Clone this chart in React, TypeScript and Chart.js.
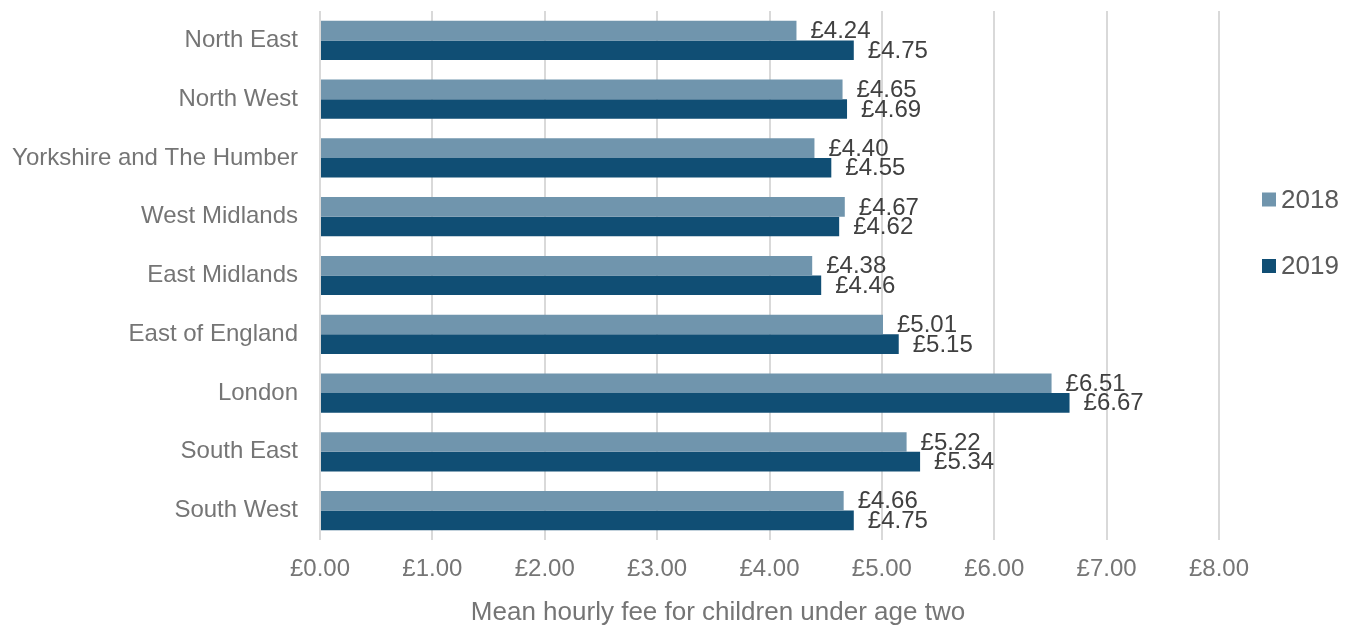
import React, { useEffect, useRef } from "react";
import { Chart, registerables } from "chart.js";

Chart.register(...registerables);

const regions = [
  "North East",
  "North West",
  "Yorkshire and The Humber",
  "West Midlands",
  "East Midlands",
  "East of England",
  "London",
  "South East",
  "South West",
];
const fees2018 = [4.24, 4.65, 4.4, 4.67, 4.38, 5.01, 6.51, 5.22, 4.66];
const fees2019 = [4.75, 4.69, 4.55, 4.62, 4.46, 5.15, 6.67, 5.34, 4.75];
const seriesNames = ["2018", "2019"];
const seriesColors = ["#7095AD", "#104E74"];
const axisTitle = "Mean hourly fee for children under age two";

const FONT = "'Liberation Sans', Arial, sans-serif";

const valueLabels = {
  id: "valueLabels",
  afterDatasetsDraw(chart: any) {
    const ctx = chart.ctx;
    ctx.save();
    ctx.font = `24px ${FONT}`;
    ctx.fillStyle = "#404040";
    ctx.textAlign = "left";
    ctx.textBaseline = "middle";
    chart.data.datasets.forEach((ds: any, i: number) => {
      const meta = chart.getDatasetMeta(i);
      meta.data.forEach((el: any, j: number) => {
        const v = ds.data[j];
        ctx.fillText("£" + v.toFixed(2), el.x + 14, el.y + 1);
      });
    });
    ctx.restore();
  },
};

const customLegendAndTitle = {
  id: "customLegendAndTitle",
  afterDraw(chart: any) {
    const ctx = chart.ctx;
    ctx.save();
    const x = chart.width - 94;
    const ys = [199.5, 266];
    ctx.font = `26px ${FONT}`;
    ctx.textAlign = "left";
    ctx.textBaseline = "middle";
    chart.data.datasets.forEach((ds: any, i: number) => {
      ctx.fillStyle = ds.backgroundColor;
      ctx.fillRect(x, ys[i] - 7, 14, 14);
      ctx.fillStyle = "#595959";
      ctx.fillText(ds.label, x + 19, ys[i] + 1);
    });
    ctx.textAlign = "center";
    ctx.fillStyle = "#757575";
    ctx.fillText(axisTitle, 718, chart.height - 20);
    ctx.restore();
  },
};

export default function App() {
  const ref = useRef<HTMLCanvasElement | null>(null);
  useEffect(() => {
    document.body.style.margin = "0";
    if (!ref.current) return;
    const chart = new Chart(ref.current, {
      type: "bar",
      data: {
        labels: regions,
        datasets: [
          { label: seriesNames[0], data: fees2018, backgroundColor: seriesColors[0] },
          { label: seriesNames[1], data: fees2019, backgroundColor: seriesColors[1] },
        ],
      },
      options: {
        indexAxis: "y",
        responsive: false,
        animation: false,
        layout: { padding: { left: 0, right: 137, top: 11, bottom: 1 } },
        datasets: {
          bar: { categoryPercentage: 0.667, barPercentage: 1.0 },
        },
        plugins: {
          legend: { display: false },
          tooltip: { enabled: false },
        },
        scales: {
          x: {
            min: 0,
            max: 8,
            afterFit: (s: any) => {
              s.height = 92;
              s.paddingTop = 0;
              s.paddingBottom = 0;
            },
            ticks: {
              stepSize: 1,
              padding: 15,
              color: "#757575",
              font: { family: FONT, size: 24 },
              callback: (v: any) => "£" + Number(v).toFixed(2),
            },
            grid: { color: "#D9D9D9", lineWidth: 2, drawTicks: false },
            border: { display: false },
          },
          y: {
            afterFit: (s: any) => {
              s.width = 320;
              s.paddingTop = 0;
              s.paddingBottom = 0;
            },
            ticks: {
              padding: 22,
              color: "#757575",
              font: { family: FONT, size: 24 },
            },
            grid: { display: false, drawTicks: false },
            border: { display: false },
          },
        },
      },
      plugins: [valueLabels, customLegendAndTitle],
    });
    return () => chart.destroy();
  }, []);
  return (
    <div style={{ width: 1356, height: 633 }}>
      <canvas ref={ref} width={1356} height={633} />
    </div>
  );
}
